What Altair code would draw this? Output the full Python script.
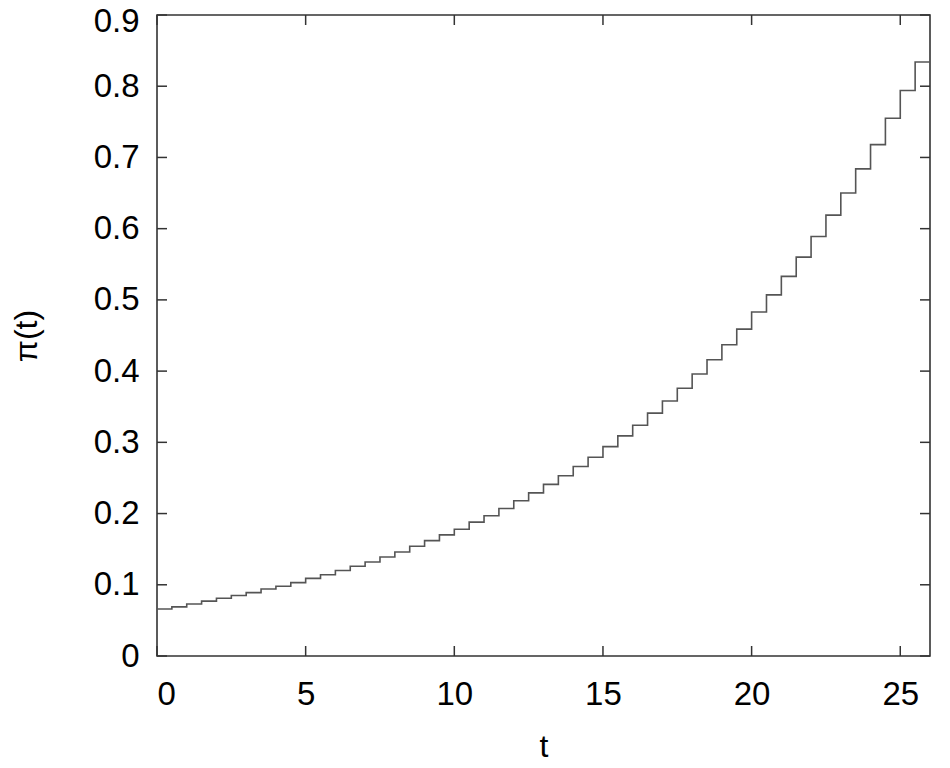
import altair as alt
import pandas as pd

# step values pi(t), one per half-unit step starting at t=0
pi_values = [0.066, 0.069, 0.073, 0.077, 0.081, 0.085, 0.089, 0.094, 0.098, 0.103,
             0.109, 0.114, 0.120, 0.126, 0.132, 0.139, 0.146, 0.154, 0.162, 0.170,
             0.178, 0.188, 0.197, 0.207, 0.218, 0.229, 0.241, 0.253, 0.266, 0.279,
             0.294, 0.309, 0.324, 0.341, 0.358, 0.376, 0.396, 0.416, 0.437, 0.459,
             0.483, 0.507, 0.533, 0.560, 0.589, 0.619, 0.650, 0.684, 0.718, 0.755,
             0.794, 0.834]
t_values = [i * 0.5 for i in range(len(pi_values))]
x_ticks = [0, 5, 10, 15, 20, 25]
y_ticks = [0, 0.1, 0.2, 0.3, 0.4, 0.5, 0.6, 0.7, 0.8, 0.9]

# close the last step at t = 26
df = pd.DataFrame({"t": t_values + [26.0], "pi": pi_values + [pi_values[-1]]})
xt = pd.DataFrame({"t": x_ticks})
yt = pd.DataFrame({"pi": y_ticks})

W, H = 773, 641
FONT = "Liberation Sans"

xscale = alt.Scale(domain=[0, 26], nice=False, zero=False)
yscale = alt.Scale(domain=[0, 0.9], nice=False)

x_axis = alt.Axis(values=x_ticks, ticks=False, domain=False, grid=False,
                  labelFontSize=33, labelPadding=22, titleFontSize=32,
                  titleFontWeight="normal", titlePadding=20, labelFont=FONT,
                  titleFont=FONT, labelColor="black", titleColor="black")
y_axis = alt.Axis(values=y_ticks, ticks=False, domain=False, grid=False,
                  labelFontSize=33, labelPadding=18, titleFontSize=32,
                  titleFontWeight="normal", titlePadding=50, labelFont=FONT,
                  titleFont=FONT, labelColor="black", titleColor="black",
                  labelOffset={"condition": {"test": "datum.value >= 0.89", "value": 6}, "value": 0},
                  labelExpr="datum.value == 0 ? '0' : format(datum.value, '.1f')")

X = alt.X("t:Q", scale=xscale, title="t", axis=x_axis)
Y = alt.Y("pi:Q", scale=yscale, title="π(t)", axis=y_axis)

line = alt.Chart(df).mark_line(interpolate="step-after", color="#555555", strokeWidth=1.6).encode(
    x=X, y=Y)

tick_style = dict(color="#333333", strokeWidth=1.5)
ytl = alt.Chart(yt).mark_rule(**tick_style).encode(y=Y, x=alt.value(0), x2=alt.value(10))
ytr = alt.Chart(yt).mark_rule(**tick_style).encode(y=Y, x=alt.value(W - 10), x2=alt.value(W))
xtb = alt.Chart(xt).mark_rule(**tick_style).encode(x=X, y=alt.value(H - 10), y2=alt.value(H))
xtt = alt.Chart(xt).mark_rule(**tick_style).encode(x=X, y=alt.value(0), y2=alt.value(10))

chart = alt.layer(line, ytl, ytr, xtb, xtt).properties(
    width=W, height=H,
    autosize=alt.AutoSizeParams(type="none"),
    padding={"left": 149, "top": 7, "right": 10, "bottom": 110},
    background="white",
).configure_view(stroke="#333333", strokeWidth=1.6)

chart.save("out.html", embed_options={"renderer": "svg", "actions": False})
